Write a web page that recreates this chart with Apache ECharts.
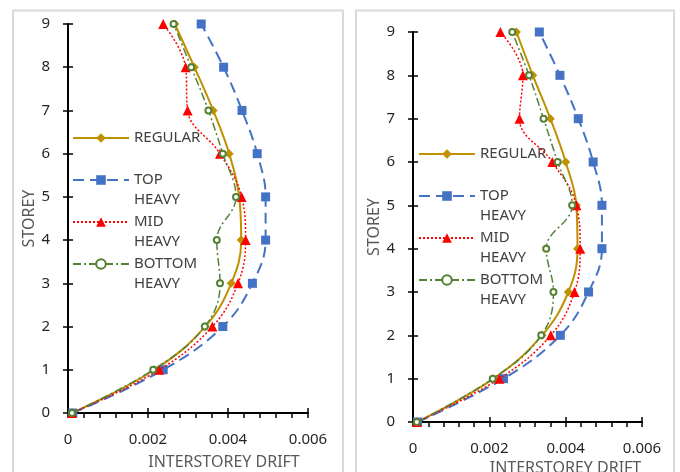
<!DOCTYPE html>
<html>
<head>
<meta charset="utf-8">
<script src="https://cdn.jsdelivr.net/npm/echarts@6/dist/echarts.min.js"></script>
<style>html,body{margin:0;padding:0;background:#fff}#c{width:680px;height:472px}</style>
</head>
<body>
<div id="c"></div>
<script>
const storeys = [0, 1, 2, 3, 4, 5, 6, 7, 8, 9];
const xTicks = [0, 0.002, 0.004, 0.006];
const seriesNames = ['REGULAR', 'TOP HEAVY', 'MID HEAVY', 'BOTTOM HEAVY'];
const legendLabels = ['REGULAR', 'TOP\nHEAVY', 'MID\nHEAVY', 'BOTTOM\nHEAVY'];

// Left panel
const regularA = [0.0001, 0.00216, 0.00343, 0.00408, 0.00433, 0.00428, 0.00403, 0.00363, 0.00316, 0.00267];
const topA     = [0.00012, 0.00238, 0.00387, 0.00461, 0.00494, 0.00494, 0.00473, 0.00435, 0.00389, 0.00333];
const midA     = [0.0001, 0.00228, 0.00361, 0.00425, 0.00444, 0.00434, 0.0038, 0.00299, 0.00294, 0.00238];
const bottomA  = [0.0001, 0.00213, 0.00342, 0.0038, 0.00372, 0.0042, 0.00387, 0.00351, 0.00308, 0.00264];

// Right panel
const regularB = [0.0001, 0.00211, 0.00338, 0.00407, 0.00431, 0.00428, 0.004, 0.0036, 0.00314, 0.00271];
const topB     = [0.00012, 0.00237, 0.00386, 0.0046, 0.00495, 0.00495, 0.00472, 0.00433, 0.00385, 0.00331];
const midB     = [0.0001, 0.00226, 0.00361, 0.00423, 0.00438, 0.00428, 0.00365, 0.00279, 0.00288, 0.00229];
const bottomB  = [0.0001, 0.00209, 0.00336, 0.00368, 0.00349, 0.00417, 0.00379, 0.00342, 0.00304, 0.0026];

const FONT = 'Noto Sans';
const styles = [
  {color: '#BF9000', symbol: 'diamond', symbolSize: 9, line: {width: 2, type: 'solid'}},
  {color: '#4472C4', symbol: 'rect', symbolSize: 9, line: {width: 2, type: [11, 6]}},
  {color: '#FF0000', symbol: 'triangle', symbolSize: 10, line: {width: 1.5, type: [2, 2]}},
  {color: '#548235', symbol: 'emptyCircle', symbolSize: 6, line: {width: 1.5, type: [8, 3, 2, 3]}}
];

function pairs(xs) { return xs.map((v, i) => [v, storeys[i]]); }

const panels = [
  {data: [regularA, topA, midA, bottomA], grid: {left: 68, top: 24, width: 240, height: 389}, nameShift: 72, nameGap: 41, legendLeft: 72, legendTop: 108},
  {data: [regularB, topB, midB, bottomB], grid: {left: 413, top: 32, width: 229, height: 390}, nameShift: 76, nameGap: 33, legendLeft: 418, legendTop: 124}
];

const grids = [], xAxes = [], yAxes = [], series = [], legends = [];
panels.forEach((p, pi) => {
  grids.push(Object.assign({outerBoundsMode: 'none', containLabel: false}, p.grid));
  xAxes.push({
    type: 'value', gridIndex: pi, min: 0, max: 0.006, interval: 0.002,
    axisLine: {show: true, lineStyle: {color: '#000', width: 2}},
    axisTick: {show: true, length: 5, lineStyle: {color: '#000', width: 1.5}},
    minorTick: {show: true, splitNumber: 5, length: 5, lineStyle: {color: '#000', width: 1.5}},
    splitLine: {show: false},
    axisLabel: {color: '#262626', fontFamily: FONT, fontSize: 15, margin: 19,
      formatter: v => { const t = xTicks.find(x => Math.abs(x - v) < 1e-9); return t === 0 ? '0' : String(t); }},
    name: 'INTERSTOREY DRIFT', nameLocation: 'middle', nameGap: p.nameGap,
    nameTextStyle: {color: '#595959', fontFamily: FONT, fontSize: 16, padding: [0, 0, 0, p.nameShift]}
  });
  xAxes.push({
    type: 'value', gridIndex: pi, min: 0, max: 0.006, interval: 0.002, position: 'bottom',
    axisLine: {show: false}, axisLabel: {show: false}, splitLine: {show: false},
    axisTick: {show: true, inside: true, length: 5, lineStyle: {color: '#000', width: 1.5}}
  });
  yAxes.push({
    type: 'value', gridIndex: pi, min: 0, max: 9, interval: 1,
    axisLine: {show: true, lineStyle: {color: '#000', width: 2}},
    axisTick: {show: true, length: 5, lineStyle: {color: '#000', width: 1.5}},
    splitLine: {show: false},
    axisLabel: {color: '#262626', fontFamily: FONT, fontSize: 15, margin: 18},
    name: 'STOREY', nameLocation: 'middle', nameGap: 30, nameRotate: 90,
    nameTextStyle: {color: '#595959', fontFamily: FONT, fontSize: 16}
  });
  yAxes.push({
    type: 'value', gridIndex: pi, min: 0, max: 9, interval: 1, position: 'left',
    axisLine: {show: false}, axisLabel: {show: false}, splitLine: {show: false},
    axisTick: {show: true, inside: true, length: 5, lineStyle: {color: '#000', width: 1.5}}
  });
  p.data.forEach((arr, si) => {
    const s = styles[si];
    series.push({
      type: 'line', name: seriesNames[si], xAxisIndex: pi * 2, yAxisIndex: pi * 2,
      data: pairs(arr), smooth: 0.4, symbol: s.symbol, symbolSize: s.symbolSize,
      lineStyle: {color: s.color, width: s.line.width, type: s.line.type},
      itemStyle: {color: s.color, borderColor: s.color, borderWidth: si === 3 ? 2 : 0},
      z: 2 + si
    });
  });
  legends.push({
    orient: 'vertical', left: p.legendLeft, top: p.legendTop, padding: 0,
    itemWidth: 56, itemHeight: 12, itemGap: -18,
    data: seriesNames,
    // a leading blank line keeps the icon level with the first text line
    formatter: n => { const t = legendLabels[seriesNames.indexOf(n)]; return '\n' + t + (t.indexOf('\n') < 0 ? '\n' : ''); },
    textStyle: {color: '#404040', fontFamily: FONT, fontSize: 15, lineHeight: 20}
  });
});

const chart = echarts.init(document.getElementById('c'), null, {renderer: 'canvas'});
chart.setOption({
  animation: false,
  backgroundColor: '#fff',
  grid: grids, xAxis: xAxes, yAxis: yAxes, series: series, legend: legends,
  graphic: [
    {type: 'rect', shape: {x: 13, y: 10.5, width: 330, height: 480}, style: {fill: 'none', stroke: '#d9d9d9', lineWidth: 2}, z: -1},
    {type: 'rect', shape: {x: 356, y: 10.5, width: 318, height: 480}, style: {fill: 'none', stroke: '#d9d9d9', lineWidth: 2}, z: -1}
  ]
});
</script>
</body>
</html>
